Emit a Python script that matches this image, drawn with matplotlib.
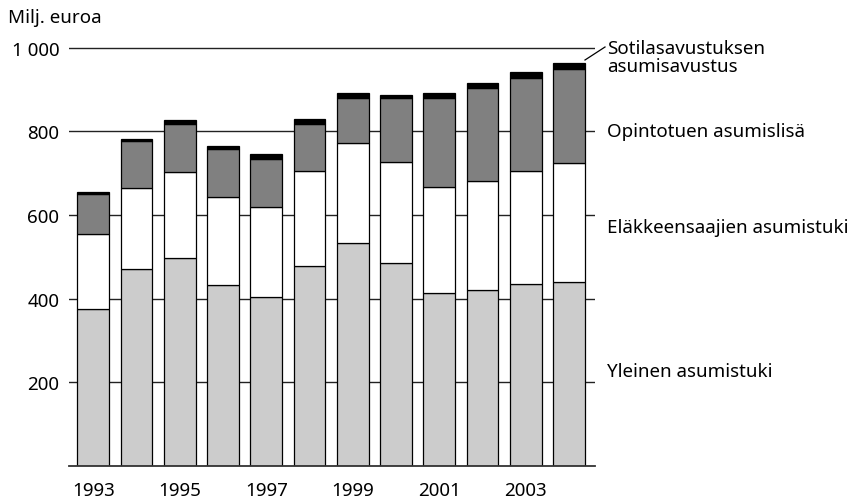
import matplotlib
matplotlib.use("Agg")
import matplotlib.pyplot as plt
import numpy as np

plt.rcParams['font.family'] = ['Noto Sans', 'DejaVu Sans']

years = [1993, 1994, 1995, 1996, 1997, 1998, 1999, 2000, 2001, 2002, 2003, 2004]
yleinen = [375, 470, 498, 432, 403, 477, 532, 484, 413, 421, 434, 440]
elakkeensaajat = [179, 194, 204, 211, 216, 228, 240, 242, 253, 261, 272, 284]
opintotuki = [97, 112, 115, 114, 116, 113, 109, 153, 214, 221, 223, 226]
sotilas = [3, 6, 10, 9, 10, 11, 10, 9, 11, 14, 13, 14]

series = [
    (yleinen, '#cccccc', 'Yleinen asumistuki'),
    (elakkeensaajat, '#ffffff', 'Eläkkeensaajien asumistuki'),
    (opintotuki, '#808080', 'Opintotuen asumislisä'),
    (sotilas, '#000000', 'Sotilasavustuksen\nasumisavustus'),
]

yticks = [200, 400, 600, 800, 1000]
ytick_labels = ['200', '400', '600', '800', '1 000']
xtick_years = [1993, 1995, 1997, 1999, 2001, 2003]

FS = 13.5

fig = plt.figure(figsize=(8.65, 5.02), dpi=100)
ax = fig.add_axes([69/865, (502-466.6)/502, 526/865, 421.9/502])

x = np.arange(len(years))
bottom = np.zeros(len(years))
for vals, col, lab in series:
    ax.bar(x, vals, width=0.73, bottom=bottom, color=col, edgecolor='black',
           linewidth=0.9, zorder=3)
    bottom += np.array(vals)

for yv in yticks:
    ax.axhline(yv, color='#222222', lw=1.0, zorder=1)

ax.set_xlim(-0.56, len(years) - 0.4)
ax.set_ylim(0, 1010)
for s in ['top', 'right', 'left']:
    ax.spines[s].set_visible(False)
ax.spines['bottom'].set_color('#333333')
ax.spines['bottom'].set_linewidth(1.3)
ax.spines['bottom'].set_zorder(4)

ax.set_yticks(yticks)
ax.set_yticklabels(ytick_labels, fontsize=FS)
ax.tick_params(axis='y', length=0, pad=7)
ax.set_xticks([years.index(y) for y in xtick_years])
ax.set_xticklabels([str(y) for y in xtick_years], fontsize=FS)
ax.tick_params(axis='x', length=0, pad=11)

fig.text(8/865, 1 - 18/502, 'Milj. euroa', fontsize=FS, ha='left', va='center')

# right-side labels
lab_x = 607/865
fig.text(lab_x, 1 - 58/502, 'Sotilasavustuksen\nasumisavustus', fontsize=FS,
         ha='left', va='center', linespacing=1.05)
fig.text(lab_x, 1 - 132/502, 'Opintotuen asumislisä', fontsize=FS, ha='left', va='center')
fig.text(lab_x, 1 - 228/502, 'Eläkkeensaajien asumistuki', fontsize=FS, ha='left', va='center')
fig.text(lab_x, 1 - 372/502, 'Yleinen asumistuki', fontsize=FS, ha='left', va='center')

# leader line
fig.add_artist(plt.Line2D([585/865, 605/865], [1 - 61/502, 1 - 48/502],
                          color='black', lw=0.9))

fig.savefig('out.png', dpi=100)
